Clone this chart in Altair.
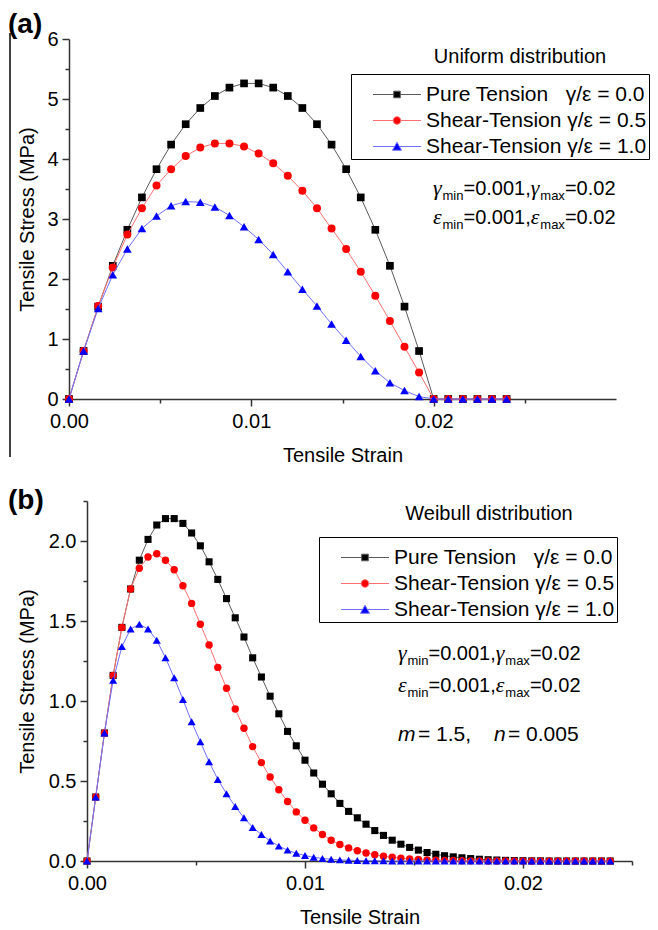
import altair as alt
import pandas as pd

# ---------------- data ----------------
SERIES = [
    "Pure Tension\u00a0\u00a0\u00a0\u03b3/\u03b5 = 0.0",
    "Shear-Tension\u00a0\u03b3/\u03b5 = 0.5",
    "Shear-Tension\u00a0\u03b3/\u03b5 = 1.0",
]
MARK_COLORS = ["#000000", "#ff0000", "#0000ff"]
LINE_COLORS = ["#5a5a5a", "#ff7070", "#7070ff"]
MARK_SHAPES = ["square", "circle", "triangle-up"]

top_strain = [0.0, 0.0008, 0.0016, 0.0024, 0.0032, 0.004, 0.0048, 0.0056, 0.0064, 0.0072,
              0.008, 0.0088, 0.0096, 0.0104, 0.0112, 0.012, 0.0128, 0.0136, 0.0144, 0.0152,
              0.016, 0.0168, 0.0176, 0.0184, 0.0192, 0.02, 0.0208, 0.0216, 0.0224, 0.0232, 0.024]
top_pure = [0.0, 0.80, 1.54, 2.22, 2.82, 3.36, 3.83, 4.24, 4.58, 4.85,
            5.05, 5.19, 5.26, 5.26, 5.19, 5.05, 4.85, 4.58, 4.24, 3.83,
            3.36, 2.82, 2.22, 1.54, 0.80, 0.0, 0.0, 0.0, 0.0, 0.0, 0.0]
top_shear05 = [0.0, 0.80, 1.55, 2.19, 2.74, 3.18, 3.56, 3.83, 4.05, 4.19,
               4.26, 4.26, 4.21, 4.09, 3.93, 3.72, 3.47, 3.18, 2.84, 2.50,
               2.12, 1.72, 1.30, 0.87, 0.44, 0.0, 0.0, 0.0, 0.0, 0.0, 0.0]
top_shear10 = [0.0, 0.80, 1.51, 2.07, 2.50, 2.84, 3.05, 3.22, 3.29, 3.28,
               3.20, 3.06, 2.87, 2.66, 2.41, 2.12, 1.83, 1.55, 1.25, 0.98,
               0.71, 0.47, 0.27, 0.14, 0.04, 0.0, 0.0, 0.0, 0.0, 0.0, 0.0]

bot_strain = [0.0, 0.0004, 0.0008, 0.0012, 0.0016, 0.002, 0.0024, 0.0028, 0.0032, 0.0036,
              0.004, 0.0044, 0.0048, 0.0052, 0.0056, 0.006, 0.0064, 0.0068, 0.0072, 0.0076,
              0.008, 0.0084, 0.0088, 0.0092, 0.0096, 0.01, 0.0104, 0.0108, 0.0112, 0.0116,
              0.012, 0.0124, 0.0128, 0.0132, 0.0136, 0.014, 0.0144, 0.0148, 0.0152, 0.0156,
              0.016, 0.0164, 0.0168, 0.0172, 0.0176, 0.018, 0.0184, 0.0188, 0.0192, 0.0196,
              0.02, 0.0204, 0.0208, 0.0212, 0.0216, 0.022, 0.0224, 0.0228, 0.0232, 0.0236, 0.024]
bot_pure = [0.0, 0.40, 0.80, 1.16, 1.46, 1.70, 1.88, 2.01, 2.10, 2.14,
            2.14, 2.11, 2.05, 1.97, 1.87, 1.76, 1.64, 1.52, 1.40, 1.27,
            1.15, 1.03, 0.92, 0.81, 0.72, 0.63, 0.55, 0.48, 0.42, 0.36,
            0.31, 0.27, 0.23, 0.19, 0.16, 0.13, 0.105, 0.085, 0.068, 0.053,
            0.042, 0.033, 0.026, 0.020, 0.015, 0.011, 0.008, 0.006, 0.004, 0.003,
            0.002, 0.001, 0.001, 0.0, 0.0, 0.0, 0.0, 0.0, 0.0, 0.0, 0.0]
bot_shear05 = [0.0, 0.40, 0.80, 1.16, 1.46, 1.70, 1.83, 1.90, 1.92, 1.88,
               1.82, 1.72, 1.61, 1.48, 1.35, 1.21, 1.08, 0.95, 0.83, 0.715,
               0.615, 0.525, 0.445, 0.372, 0.307, 0.255, 0.207, 0.166, 0.130, 0.103,
               0.082, 0.064, 0.050, 0.039, 0.030, 0.023, 0.017, 0.013, 0.010, 0.007,
               0.005, 0.004, 0.003, 0.002, 0.001, 0.001, 0.0, 0.0, 0.0, 0.0,
               0.0, 0.0, 0.0, 0.0, 0.0, 0.0, 0.0, 0.0, 0.0, 0.0, 0.0]
bot_shear10 = [0.0, 0.40, 0.80, 1.13, 1.34, 1.45, 1.48, 1.45, 1.38, 1.27,
               1.145, 1.01, 0.87, 0.745, 0.62, 0.51, 0.42, 0.34, 0.27, 0.21,
               0.166, 0.125, 0.093, 0.068, 0.048, 0.034, 0.023, 0.016, 0.011, 0.007,
               0.005, 0.003, 0.002, 0.001, 0.001, 0.0, 0.0, 0.0, 0.0, 0.0,
               0.0, 0.0, 0.0, 0.0, 0.0, 0.0, 0.0, 0.0, 0.0, 0.0,
               0.0, 0.0, 0.0, 0.0, 0.0, 0.0, 0.0, 0.0, 0.0, 0.0, 0.0]

top_x_ticks = [0.0, 0.01, 0.02]
top_x_minor = [0.005, 0.015, 0.025]
top_y_ticks = [0, 1, 2, 3, 4, 5, 6]
top_y_minor = [0.5, 1.5, 2.5, 3.5, 4.5, 5.5]
bot_x_ticks = [0.0, 0.01, 0.02]
bot_x_minor = [0.005, 0.015, 0.025]
bot_y_ticks = [0.0, 0.5, 1.0, 1.5, 2.0]
bot_y_minor = [0.25, 0.75, 1.25, 1.75, 2.25]

# legend symbols: a line with the marker in its middle (custom symbol paths)
LEGEND_PATHS = [
    "M-4.8,0L-0.66,0M0.66,0L4.8,0M-0.66,-0.66L0.66,-0.66L0.66,0.66L-0.66,0.66Z",
    "M-4.8,0L-0.76,0M0.76,0L4.8,0M0.76,0A0.76,0.76,0,1,1,-0.76,0A0.76,0.76,0,1,1,0.76,0Z",
    "M-4.8,0L-0.48,0M0.48,0L4.8,0M0,-0.85L0.9,0.75L-0.9,0.75Z",
]

FONT = "Liberation Sans"
SERIF = "Liberation Serif"


def make_df(strain, values):
    rows = []
    for name, vals in zip(SERIES, values):
        for s, v in zip(strain, vals):
            rows.append({"strain": s, "stress": v, "series": name})
    return pd.DataFrame(rows)


def txt(text, x, y, size=20, font=FONT, style="normal", weight="normal", align="left"):
    return alt.Chart(alt.Data(values=[{"k": 0}])).mark_text(
        text=text, font=font, fontSize=size, fontStyle=style, fontWeight=weight,
        align=align, baseline="alphabetic", color="black"
    ).encode(x=alt.value(x), y=alt.value(y))


def sub_line(sym, x0, y, sub1="min", sub2="max"):
    return [
        txt(sym, x0, y, size=22, font=SERIF, style="italic"),
        txt(sub1, x0 + 9.5, y + 5, size=13),
        txt("=0.001,", x0 + 30.5, y, size=20),
        txt(sym, x0 + 97.8, y, size=22, font=SERIF, style="italic"),
        txt(sub2, x0 + 107.3, y + 5, size=13),
        txt("=0.02", x0 + 131.9, y, size=20),
    ]


def panel(df, width, height, xdom, xrange, ydom, xmaj, xmin_, ymaj, ymin_, yfmt,
          yoff, ytitlepad, msize, legx, legy, extra):
    if xrange is None:
        xs = alt.Scale(domain=xdom, nice=False, zero=False)
    else:
        xs = alt.Scale(domain=xdom, range=xrange, nice=False, zero=False)
    ys = alt.Scale(domain=ydom, nice=False, zero=False)

    ax_x_major = alt.Axis(values=xmaj, format=".2f", tickSize=7, labelPadding=5,
                          title="Tensile Strain", titlePadding=14, orient="bottom",
                          labelFlush=False, grid=False)
    ax_x_minor = alt.Axis(values=xmin_, tickSize=4, labels=False, domain=False,
                          title=None, orient="bottom", grid=False)
    ax_y_major = alt.Axis(values=ymaj, format=yfmt, tickSize=7, labelPadding=4,
                          title="Tensile Stress (MPa)", titlePadding=ytitlepad,
                          orient="left", offset=yoff, labelFlush=False, grid=False)
    ax_y_minor = alt.Axis(values=ymin_, tickSize=4, labels=False, domain=False,
                          title=None, orient="left", offset=yoff, grid=False)

    base = alt.Chart(df)
    layers = []
    for i, name in enumerate(SERIES):
        sel = base.transform_filter(alt.datum.series == name)
        line = sel.mark_line(color=LINE_COLORS[i], strokeWidth=1).encode(
            x=alt.X("strain:Q", scale=xs, axis=ax_x_minor if i == 0 else None),
            y=alt.Y("stress:Q", scale=ys, axis=ax_y_minor if i == 0 else None),
        )
        pts = sel.mark_point(filled=True, shape=MARK_SHAPES[i], size=msize[i],
                             color=MARK_COLORS[i], opacity=1).encode(
            x=alt.X("strain:Q", scale=xs, axis=ax_x_major if i == 0 else None),
            y=alt.Y("stress:Q", scale=ys, axis=ax_y_major if i == 0 else None),
        )
        layers += [line, pts]

    legend = alt.Legend(
        orient="none", legendX=legx, legendY=legy, title=" ", titleFontSize=1,
        titlePadding=7, padding=2, strokeColor="black", labelFont=FONT,
        labelFontSize=21, labelColor="black", labelLimit=600, rowPadding=4,
        symbolSize=100, symbolStrokeWidth=1, symbolOffset=33.5, labelOffset=18.5,
        symbolOpacity=1, symbolFillColor="black", symbolStrokeColor="black",
        direction="vertical",
    )
    leg = base.mark_point(opacity=0).encode(
        x=alt.X("strain:Q", scale=xs, axis=None),
        y=alt.Y("stress:Q", scale=ys, axis=None),
        fill=alt.Fill("series:N", scale=alt.Scale(domain=SERIES, range=MARK_COLORS), legend=legend),
        stroke=alt.Stroke("series:N", scale=alt.Scale(domain=SERIES, range=LINE_COLORS), legend=legend),
        shape=alt.Shape("series:N", scale=alt.Scale(domain=SERIES, range=LEGEND_PATHS), legend=legend),
    )
    layers.append(leg)
    layers += extra
    return alt.layer(*layers).resolve_axis(x="independent", y="independent").properties(
        width=width, height=height)


df_top = make_df(top_strain, [top_pure, top_shear05, top_shear10])
df_bot = make_df(bot_strain, [bot_pure, bot_shear05, bot_shear10])

top_extra = [
    txt("(a)", -61, -6, size=28, weight="bold"),
    txt("Uniform distribution", 451, 24, size=20, align="center"),
    alt.Chart(alt.Data(values=[{"k": 0}])).mark_rule(color="black", strokeWidth=1.5).encode(
        x=alt.value(-59), y=alt.value(-6), y2=alt.value(418)),
] + sub_line("\u03b3", 364, 156) + sub_line("\u03b5", 364, 185)

bot_extra = [
    txt("(b)", -61, 7.5, size=28, weight="bold"),
    txt("Weibull distribution", 420, 18.5, size=20, align="center"),
    txt("m", 329, 240, size=21, style="italic"),
    txt("= 1.5,", 349, 240, size=21),
    txt("n", 425, 240, size=21, style="italic"),
    txt("= 0.005", 439, 240, size=21),
] + sub_line("\u03b3", 329, 158.5) + sub_line("\u03b5", 329, 191)

top = panel(df_top, 547, 360, [0, 0.03], None, [0, 6], top_x_ticks, top_x_minor,
            top_y_ticks, top_y_minor, "d", 0, 9.5, [59, 64, 75], 282, 35, top_extra)
bottom = panel(df_bot, 563, 360, [0, 0.025], [18, 563], [0, 2.25], bot_x_ticks, bot_x_minor,
               bot_y_ticks, bot_y_minor, ".1f", -18, 10.5, [50, 55, 65], 250, 36, bot_extra)

chart = alt.vconcat(top, bottom, spacing=21).resolve_scale(
    fill="independent", stroke="independent", shape="independent"
).resolve_legend(
    fill="independent", stroke="independent", shape="independent"
).properties(
    padding={"left": 0, "top": 3, "right": 0, "bottom": 0}
).configure_view(strokeWidth=0).configure_axis(
    labelFont=FONT, titleFont=FONT, labelFontSize=20, titleFontSize=20,
    titleFontWeight="normal", labelColor="black", titleColor="black",
    domainColor="#333333", tickColor="#333333", domainWidth=1.5, tickWidth=1.5,
)

chart.save("out.html", embed_options={"renderer": "svg", "actions": False})
